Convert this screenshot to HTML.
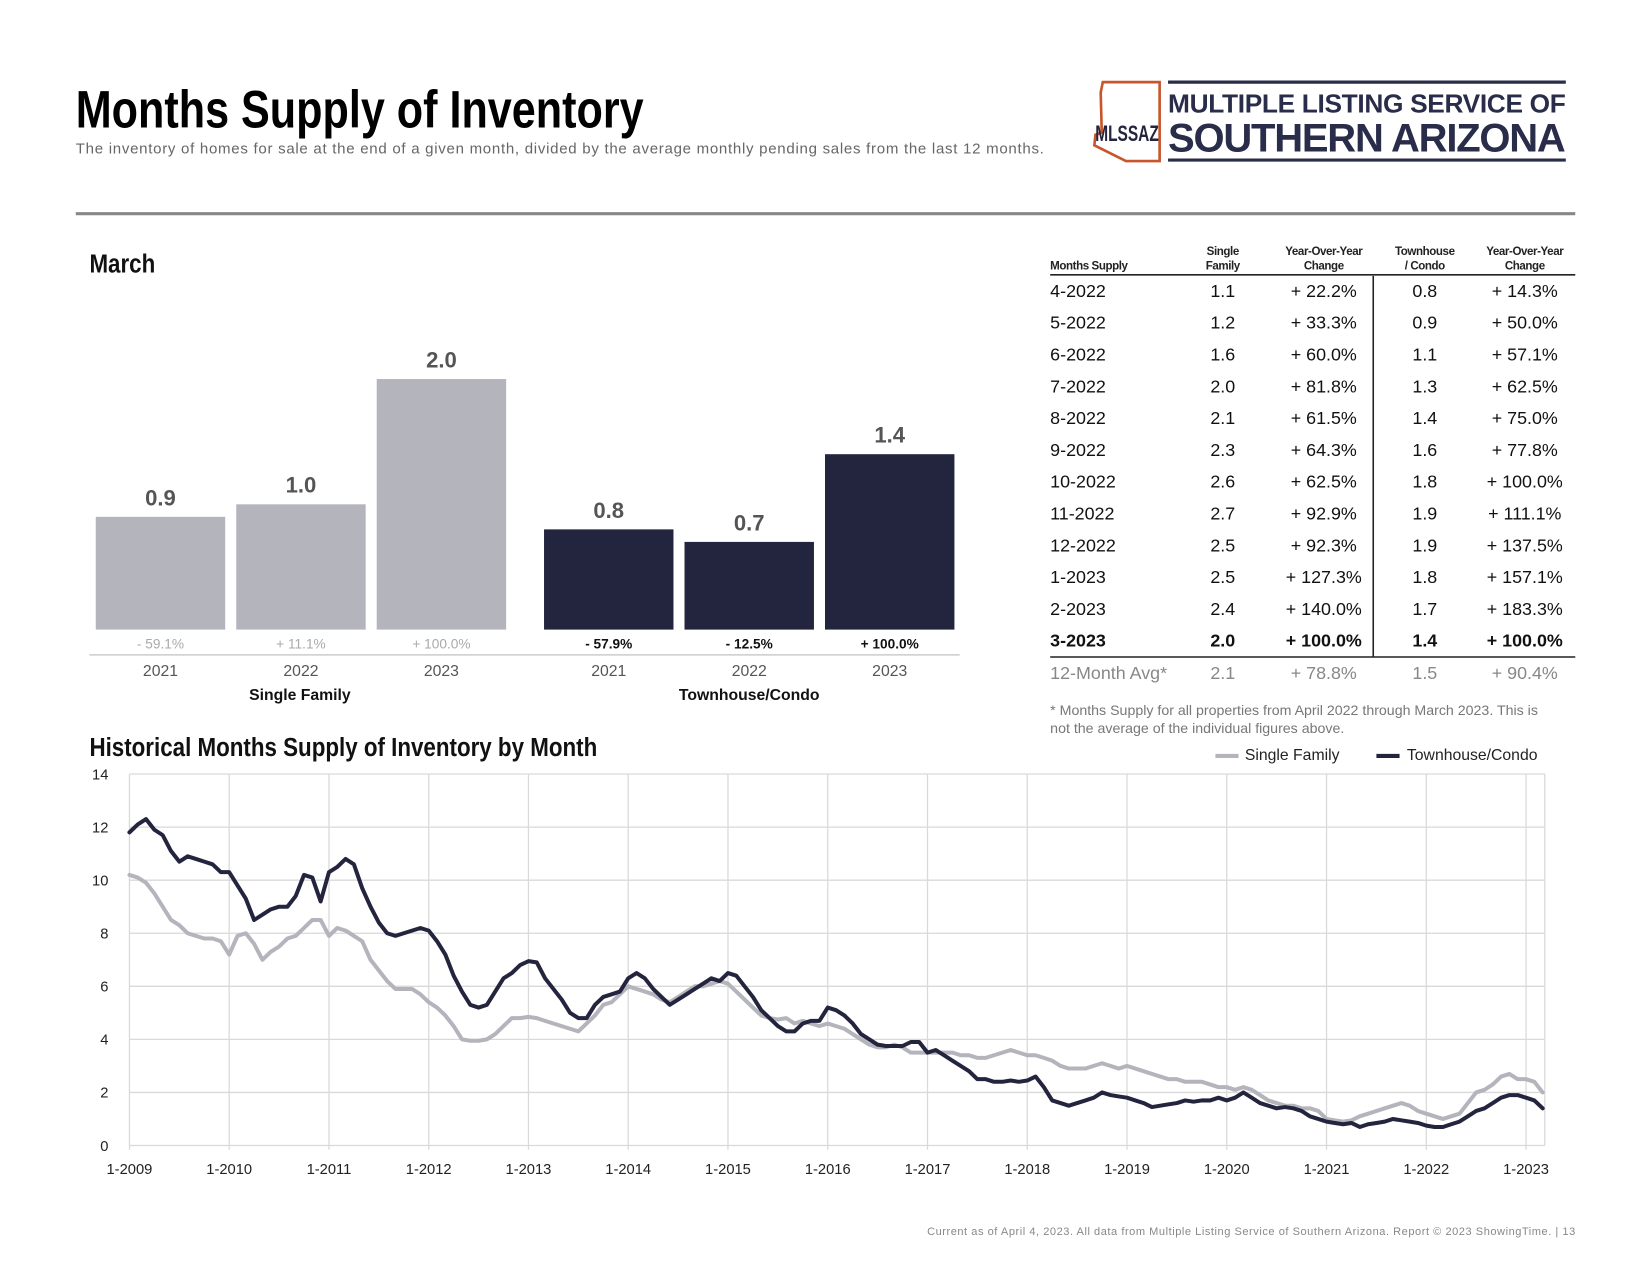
<!DOCTYPE html>
<html><head><meta charset="utf-8"><style>
html,body{margin:0;padding:0;background:#fff;}
svg{display:block;font-family:"Liberation Sans",sans-serif;}
</style></head><body>
<svg id="page" width="1650" height="1275" viewBox="0 0 1568 1211" preserveAspectRatio="none" xmlns="http://www.w3.org/2000/svg">
<rect width="1568" height="1211" fill="#fff"/>
<g>
<text x="72" y="121" font-size="50" font-weight="bold" fill="#000" transform="translate(72,0) scale(0.82,1) translate(-72,0)">Months Supply of Inventory</text>
<text x="72" y="146" font-size="14.3" fill="#666" textLength="920">The inventory of homes for sale at the end of a given month, divided by the average monthly pending sales from the last 12 months.</text>
</g>
<g>
<path d="M1048 78 L1102 78 L1102 153 L1070 153 L1040 138 L1041 128 L1047 126 L1046 88 Z" fill="none" stroke="#c8562c" stroke-width="2.5"/>
<text x="1071" y="134" font-size="21" font-weight="bold" fill="#23243d" text-anchor="middle" transform="translate(1071,0) scale(0.7,1) translate(-1071,0)">MLSSAZ</text>
<line x1="1110" y1="78" x2="1488" y2="78" stroke="#2a2d4a" stroke-width="3"/>
<line x1="1110" y1="152" x2="1488" y2="152" stroke="#2a2d4a" stroke-width="3"/>
<text x="1110" y="107" font-size="25" font-weight="bold" fill="#2a2d4a" textLength="378">MULTIPLE LISTING SERVICE OF</text>
<text x="1110" y="144" font-size="38" font-weight="bold" fill="#2a2d4a" textLength="378">SOUTHERN ARIZONA</text>
</g>
<line x1="72" y1="203" x2="1497" y2="203" stroke="#888" stroke-width="3"/>
<text x="85" y="259" font-size="25" font-weight="bold" fill="#111" transform="translate(85,0) scale(0.85,1) translate(-85,0)">March</text>
<g id="bars"></g>
<g id="table"></g>
<text x="998" y="679" font-size="13.5" fill="#777">* Months Supply for all properties from April 2022 through March 2023. This is</text>
<text x="998" y="696" font-size="13.5" fill="#777">not the average of the individual figures above.</text>
<text x="85" y="718" font-size="25" font-weight="bold" fill="#111" transform="translate(85,0) scale(0.85,1) translate(-85,0)">Historical Months Supply of Inventory by Month</text>
<g>
<g><line x1="1155" y1="718" x2="1177" y2="718" stroke="#b4b4bd" stroke-width="4"/><text x="1183" y="722" font-size="15" fill="#222">Single Family</text></g>
<g><line x1="1308" y1="718" x2="1330" y2="718" stroke="#23243d" stroke-width="4"/><text x="1337" y="722" font-size="15" fill="#222">Townhouse/Condo</text></g>
</g>
<g id="line"></g>
<text x="881" y="1173" font-size="10.5" fill="#888" textLength="616">Current as of April 4, 2023. All data from Multiple Listing Service of Southern Arizona. Report © 2023 ShowingTime.  |  13</text>
</svg>
<script>
const NS='http://www.w3.org/2000/svg';
// ---- bar chart data ----
const barYears=['2021','2022','2023'];
const sfMarch=[0.9,1.0,2.0];
const thMarch=[0.8,0.7,1.4];
const sfChange=['- 59.1%','+ 11.1%','+ 100.0%'];
const thChange=['- 57.9%','- 12.5%','+ 100.0%'];
// ---- table data ----
const tblMonths=['4-2022','5-2022','6-2022','7-2022','8-2022','9-2022','10-2022','11-2022','12-2022','1-2023','2-2023','3-2023','12-Month Avg*'];
const tblSF=['1.1','1.2','1.6','2.0','2.1','2.3','2.6','2.7','2.5','2.5','2.4','2.0','2.1'];
const tblSFChg=['+ 22.2%','+ 33.3%','+ 60.0%','+ 81.8%','+ 61.5%','+ 64.3%','+ 62.5%','+ 92.9%','+ 92.3%','+ 127.3%','+ 140.0%','+ 100.0%','+ 78.8%'];
const tblTH=['0.8','0.9','1.1','1.3','1.4','1.6','1.8','1.9','1.9','1.8','1.7','1.4','1.5'];
const tblTHChg=['+ 14.3%','+ 50.0%','+ 57.1%','+ 62.5%','+ 75.0%','+ 77.8%','+ 100.0%','+ 111.1%','+ 137.5%','+ 157.1%','+ 183.3%','+ 100.0%','+ 90.4%'];
// ---- line chart data (monthly Jan 2009 - Mar 2023) ----
const xTickLabels=['1-2009','1-2010','1-2011','1-2012','1-2013','1-2014','1-2015','1-2016','1-2017','1-2018','1-2019','1-2020','1-2021','1-2022','1-2023'];
const yTickLabels=[0,2,4,6,8,10,12,14];
const singleFamily=[
10.2,10.1,9.9,9.5,9.0,8.5,8.3,8.0,7.9,7.8,7.8,7.7,
7.2,7.9,8.0,7.6,7.0,7.3,7.5,7.8,7.9,8.2,8.5,8.5,
7.9,8.2,8.1,7.9,7.7,7.0,6.6,6.2,5.9,5.9,5.9,5.7,
5.4,5.2,4.9,4.5,4.0,3.95,3.95,4.0,4.2,4.5,4.8,4.8,
4.85,4.8,4.7,4.6,4.5,4.4,4.3,4.6,4.9,5.3,5.4,5.7,
6.0,5.9,5.8,5.7,5.5,5.4,5.6,5.8,6.0,6.0,6.1,6.2,
6.1,5.8,5.5,5.2,4.9,4.8,4.75,4.8,4.6,4.7,4.6,4.5,
4.6,4.5,4.4,4.2,4.0,3.8,3.7,3.7,3.8,3.7,3.5,3.5,
3.5,3.5,3.5,3.5,3.4,3.4,3.3,3.3,3.4,3.5,3.6,3.5,
3.4,3.4,3.3,3.2,3.0,2.9,2.9,2.9,3.0,3.1,3.0,2.9,
3.0,2.9,2.8,2.7,2.6,2.5,2.5,2.4,2.4,2.4,2.3,2.2,
2.2,2.1,2.2,2.1,1.9,1.7,1.6,1.5,1.5,1.4,1.4,1.3,
1.0,0.95,0.9,0.95,1.1,1.2,1.3,1.4,1.5,1.6,1.5,1.3,
1.2,1.1,1.0,1.1,1.2,1.6,2.0,2.1,2.3,2.6,2.7,2.5,
2.5,2.4,2.0];
const townhouse=[
11.8,12.1,12.3,11.9,11.7,11.1,10.7,10.9,10.8,10.7,10.6,10.3,
10.3,9.8,9.3,8.5,8.7,8.9,9.0,9.0,9.4,10.2,10.1,9.2,
10.3,10.5,10.8,10.6,9.7,9.0,8.4,8.0,7.9,8.0,8.1,8.2,
8.1,7.7,7.2,6.4,5.8,5.3,5.2,5.3,5.8,6.3,6.5,6.8,
6.95,6.9,6.3,5.9,5.5,5.0,4.8,4.8,5.3,5.6,5.7,5.8,
6.3,6.5,6.3,5.9,5.6,5.3,5.5,5.7,5.9,6.1,6.3,6.2,
6.5,6.4,6.0,5.6,5.1,4.8,4.5,4.3,4.3,4.6,4.7,4.7,
5.2,5.1,4.9,4.6,4.2,4.0,3.8,3.75,3.75,3.75,3.9,3.9,
3.5,3.6,3.4,3.2,3.0,2.8,2.5,2.5,2.4,2.4,2.45,2.4,
2.45,2.6,2.2,1.7,1.6,1.5,1.6,1.7,1.8,2.0,1.9,1.85,
1.8,1.7,1.6,1.45,1.5,1.55,1.6,1.7,1.65,1.7,1.7,1.8,
1.7,1.8,2.0,1.8,1.6,1.5,1.4,1.45,1.4,1.3,1.1,1.0,
0.9,0.85,0.8,0.85,0.7,0.8,0.85,0.9,1.0,0.95,0.9,0.85,
0.75,0.7,0.7,0.8,0.9,1.1,1.3,1.4,1.6,1.8,1.9,1.9,
1.8,1.7,1.4];

function mk(tag,attrs,parent,text){const e=document.createElementNS(NS,tag);for(const k in attrs)e.setAttribute(k,attrs[k]);if(text!==undefined)e.textContent=text;parent.appendChild(e);return e;}

// ---- bars ----
const bg=document.getElementById('bars');
const baseY=598, perUnit=119, barW=123;
const barY=v=>baseY-v*perUnit;
function drawGroup(vals,chg,x0,color,name,chgColor,chgBold){
  vals.forEach((v,i)=>{
    const x=x0+i*133.5;
    const r=mk('rect',{x:x,y:barY(v),width:barW,height:baseY-barY(v),fill:color},bg);
    
    
    const t=mk('text',{x:x+barW/2,y:barY(v)-11,'font-size':21,'font-weight':'bold',fill:'#555','text-anchor':'middle'},bg,v.toFixed(1));
    
    
    const c=mk('text',{x:x+barW/2,y:616,'font-size':13,'font-weight':chgBold?'bold':'normal',fill:chgColor,'text-anchor':'middle'},bg,chg[i]);
    
    
    const y=mk('text',{x:x+barW/2,y:642,'font-size':15,fill:'#555','text-anchor':'middle'},bg,barYears[i]);
    
    
  });
}
drawGroup(sfMarch,sfChange,91,'#b4b4bd','single-family','#aaa',false);
drawGroup(thMarch,thChange,517,'#23243d','townhouse','#111',true);
const sep=mk('line',{x1:85,y1:622,x2:912,y2:622,stroke:'#ccc','stroke-width':1.5},bg);


const g1=mk('text',{x:285,y:665,'font-size':15,'font-weight':'bold',fill:'#111','text-anchor':'middle'},bg,'Single Family');


const g2=mk('text',{x:712,y:665,'font-size':15,'font-weight':'bold',fill:'#111','text-anchor':'middle'},bg,'Townhouse/Condo');



// ---- table ----
const tg=document.getElementById('table');
const hdr=[[998,'start',['','Months Supply']],[1162,'middle',['Single','Family']],[1258,'middle',['Year-Over-Year','Change']],[1354,'middle',['Townhouse','/ Condo']],[1449,'middle',['Year-Over-Year','Change']]];
hdr.forEach((h,i)=>{
  h[2].forEach((s,j)=>{if(!s)return;const t=mk('text',{x:h[0],y:242+j*14,'font-size':11,'font-weight':'bold',fill:'#222','text-anchor':h[1],'letter-spacing':'-0.4'},tg,s);
  
  });
});
mk('line',{x1:998,y1:261,x2:1497,y2:261,stroke:'#222','stroke-width':1.5},tg);
mk('line',{x1:1305,y1:262,x2:1305,y2:624,stroke:'#222','stroke-width':1.5},tg);
mk('line',{x1:998,y1:624,x2:1497,y2:624,stroke:'#222','stroke-width':1.5},tg);
tblMonths.forEach((m,i)=>{
  const y=i<12?282+i*30.2:645;
  const bold=i===11, avg=i===12;
  const fill=avg?'#888':'#111', fw=bold?'bold':'normal';
  const cells=[[998,'start',m],[1162,'middle',tblSF[i]],[1258,'middle',tblSFChg[i]],[1354,'middle',tblTH[i]],[1449,'middle',tblTHChg[i]]];
  cells.forEach((c,j)=>{const t=mk('text',{x:c[0],y:y,'font-size':17,'font-weight':fw,fill:fill,'text-anchor':c[1]},tg,c[2]);
    
    });
});

// ---- line chart ----
const lg=document.getElementById('line');
const x0=123, pxPerMonth=94.8/12, y0=1088, pxPerUnit=25.2;
const xs=i=>x0+i*pxPerMonth;
const ys=v=>y0-v*pxPerUnit;
yTickLabels.forEach(v=>{
  const l=mk('line',{x1:x0,y1:ys(v),x2:1468,y2:ys(v),stroke:'#d9d9d9','stroke-width':1.2},lg);
  
  
  const t=mk('text',{x:103,y:ys(v)+5,'font-size':14,fill:'#222','text-anchor':'end'},lg,String(v));
  
  
});
xTickLabels.forEach((s,i)=>{
  const x=xs(i*12);
  const l=mk('line',{x1:x,y1:ys(14),x2:x,y2:y0+4,stroke:'#d9d9d9','stroke-width':1.2},lg);
  
  
  const t=mk('text',{x:x,y:1115,'font-size':14,fill:'#222','text-anchor':'middle'},lg,s);
  
  
});
const rl=mk('line',{x1:1468,y1:ys(14),x2:1468,y2:y0,stroke:'#d9d9d9','stroke-width':1.2},lg);


function series(vals,color,name){
  const d=vals.map((v,i)=>(i?'L':'M')+xs(i).toFixed(1)+' '+ys(v).toFixed(1)).join(' ');
  const p=mk('path',{d:d,fill:'none',stroke:color,'stroke-width':3.8,'stroke-linejoin':'round','stroke-linecap':'round'},lg);
  
  
}
series(singleFamily,'#b4b4bd','line-single-family');
series(townhouse,'#23243d','line-townhouse-condo');
</script>
</body></html>
